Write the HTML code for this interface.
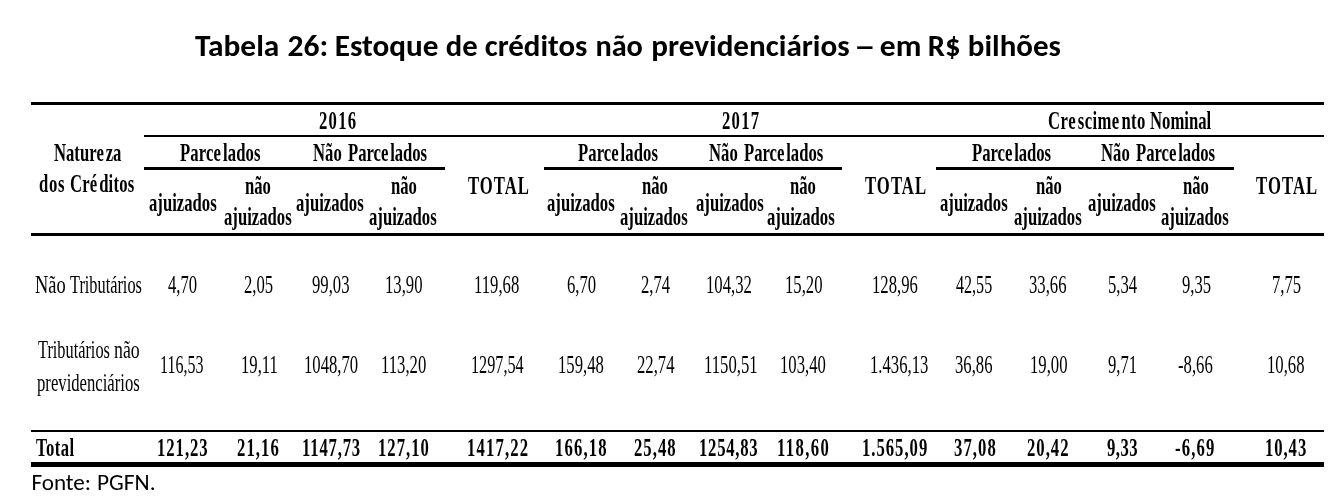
<!DOCTYPE html>
<html lang="pt-BR"><head><meta charset="utf-8"><title>Tabela 26</title>
<style>
html,body{margin:0;padding:0;background:#fff;}
body{width:1338px;height:498px;position:relative;overflow:hidden;color:#000;will-change:transform;}
.t{position:absolute;white-space:nowrap;font-family:"Liberation Serif","Times New Roman",serif;font-size:25px;line-height:25px;transform-origin:0 0;}
.b{font-weight:bold;}
.r{position:absolute;background:#000;}
.s{position:absolute;left:0;top:0;}
.s text{font-family:Carlito,Calibri,"Liberation Sans",sans-serif;fill:#000;}
.tb{font-weight:bold;font-size-adjust:0.4849;}
.tr{font-weight:normal;font-size-adjust:0.4775;}
</style></head><body>
<div class="r" style="left:31px;top:102px;width:1293px;height:3px"></div>
<div class="r" style="left:144px;top:135px;width:1180px;height:2px"></div>
<div class="r" style="left:144px;top:167px;width:301px;height:3px"></div>
<div class="r" style="left:544px;top:167px;width:298px;height:3px"></div>
<div class="r" style="left:936px;top:167px;width:298px;height:3px"></div>
<div class="r" style="left:31px;top:233px;width:1293px;height:3px"></div>
<div class="r" style="left:31px;top:430px;width:1293px;height:2px"></div>
<div class="r" style="left:31px;top:462px;width:1293px;height:5px"></div>
<svg class="s" width="1338" height="498" viewBox="0 0 1338 498">
<text class="tb" x="194.90" y="55.9" font-size="30.5" textLength="84.46" lengthAdjust="spacingAndGlyphs">Tabela</text>
<text class="tb" x="287.50" y="55.9" font-size="30.5" textLength="40.66" lengthAdjust="spacingAndGlyphs">26:</text>
<text class="tb" x="334.70" y="55.9" font-size="30.5" textLength="103.85" lengthAdjust="spacingAndGlyphs">Estoque</text>
<text class="tb" x="445.80" y="55.9" font-size="30.5" textLength="31.84" lengthAdjust="spacingAndGlyphs">de</text>
<text class="tb" x="484.70" y="55.9" font-size="30.5" textLength="102.75" lengthAdjust="spacingAndGlyphs">créditos</text>
<text class="tb" x="595.40" y="55.9" font-size="30.5" textLength="47.51" lengthAdjust="spacingAndGlyphs">não</text>
<text class="tb" x="651.30" y="55.9" font-size="30.5" textLength="198.37" lengthAdjust="spacingAndGlyphs">previdenciários</text>
<text class="tb" x="853.90" y="55.9" font-size="30.5" textLength="21.70" lengthAdjust="spacingAndGlyphs">–</text>
<text class="tb" x="879.80" y="55.9" font-size="30.5" textLength="41.58" lengthAdjust="spacingAndGlyphs">em</text>
<text class="tb" x="927.80" y="55.9" font-size="30.5" textLength="32.75" lengthAdjust="spacingAndGlyphs">R$</text>
<text class="tb" x="967.80" y="55.9" font-size="30.5" textLength="93.08" lengthAdjust="spacingAndGlyphs">bilhões</text>
<text class="tr" x="31.40" y="489.8" font-size="22" textLength="59.68" lengthAdjust="spacingAndGlyphs">Fonte:</text>
<text class="tr" x="97.00" y="489.8" font-size="22" textLength="58.61" lengthAdjust="spacingAndGlyphs">PGFN.</text>
</svg>
<div class="t b" style="left:54.30px;top:139.66px;transform:scaleX(0.6670);letter-spacing:-0.021px">Natur<span style="letter-spacing:2.679px">e</span>za</div>
<div class="t b" style="left:38.90px;top:170.66px;transform:scaleX(0.6670);letter-spacing:0.975px">dos</div>
<div class="t b" style="left:69.90px;top:170.66px;transform:scaleX(0.6670);letter-spacing:0.257px">Cr<span style="letter-spacing:2.957px">é</span>ditos</div>
<div class="t b" style="left:319.10px;top:107.56px;transform:scaleX(0.6670);letter-spacing:1.849px">2016</div>
<div class="t b" style="left:721.60px;top:107.56px;transform:scaleX(0.6670);letter-spacing:1.899px">2017</div>
<div class="t b" style="left:1047.70px;top:107.56px;transform:scaleX(0.6670);letter-spacing:0.585px">Cr<span style="letter-spacing:3.285px">e</span>scim<span style="letter-spacing:3.285px">e</span>nto</div>
<div class="t b" style="left:1150.10px;top:107.56px;transform:scaleX(0.6670)">Nominal</div>
<div class="t b" style="left:180.40px;top:139.66px;transform:scaleX(0.6670);letter-spacing:0.200px">Parc<span style="letter-spacing:2.900px">e</span>lados</div>
<div class="t b" style="left:313.10px;top:139.66px;transform:scaleX(0.6670)">Não</div>
<div class="t b" style="left:348.30px;top:139.66px;transform:scaleX(0.6670);letter-spacing:-0.033px">Parc<span style="letter-spacing:2.667px">e</span>lados</div>
<div class="t b" style="left:578.30px;top:139.66px;transform:scaleX(0.6670);letter-spacing:0.100px">Parc<span style="letter-spacing:2.800px">e</span>lados</div>
<div class="t b" style="left:709.10px;top:139.66px;transform:scaleX(0.6670)">Não</div>
<div class="t b" style="left:744.00px;top:139.66px;transform:scaleX(0.6670);letter-spacing:-0.017px">Parc<span style="letter-spacing:2.683px">e</span>lados</div>
<div class="t b" style="left:971.80px;top:139.66px;transform:scaleX(0.6670);letter-spacing:-0.033px">Parc<span style="letter-spacing:2.667px">e</span>lados</div>
<div class="t b" style="left:1101.10px;top:139.66px;transform:scaleX(0.6670)">Não</div>
<div class="t b" style="left:1136.30px;top:139.66px;transform:scaleX(0.6670);letter-spacing:-0.033px">Parc<span style="letter-spacing:2.667px">e</span>lados</div>
<div class="t b" style="left:148.70px;top:189.76px;transform:scaleX(0.6670)">ajuizados</div>
<div class="t b" style="left:295.60px;top:189.76px;transform:scaleX(0.6670)">ajuizados</div>
<div class="t b" style="left:547.30px;top:189.76px;transform:scaleX(0.6670)">ajuizados</div>
<div class="t b" style="left:695.50px;top:189.76px;transform:scaleX(0.6670)">ajuizados</div>
<div class="t b" style="left:940.00px;top:189.76px;transform:scaleX(0.6670)">ajuizados</div>
<div class="t b" style="left:1087.70px;top:189.76px;transform:scaleX(0.6670)">ajuizados</div>
<div class="t b" style="left:245.20px;top:172.76px;transform:scaleX(0.6670)">não</div>
<div class="t b" style="left:390.50px;top:172.76px;transform:scaleX(0.6670)">não</div>
<div class="t b" style="left:642.20px;top:172.76px;transform:scaleX(0.6670)">não</div>
<div class="t b" style="left:789.70px;top:172.76px;transform:scaleX(0.6670)">não</div>
<div class="t b" style="left:1035.70px;top:172.76px;transform:scaleX(0.6670)">não</div>
<div class="t b" style="left:1183.10px;top:172.76px;transform:scaleX(0.6670)">não</div>
<div class="t b" style="left:223.80px;top:204.06px;transform:scaleX(0.6670)">ajuizados</div>
<div class="t b" style="left:368.60px;top:204.06px;transform:scaleX(0.6670)">ajuizados</div>
<div class="t b" style="left:620.40px;top:204.06px;transform:scaleX(0.6670)">ajuizados</div>
<div class="t b" style="left:767.30px;top:204.06px;transform:scaleX(0.6670)">ajuizados</div>
<div class="t b" style="left:1013.80px;top:204.06px;transform:scaleX(0.6670)">ajuizados</div>
<div class="t b" style="left:1161.30px;top:204.06px;transform:scaleX(0.6670)">ajuizados</div>
<div class="t b" style="left:467.70px;top:172.76px;transform:scaleX(0.6670);letter-spacing:1.499px">TOTAL</div>
<div class="t b" style="left:864.70px;top:172.76px;transform:scaleX(0.6670);letter-spacing:1.574px">TOTAL</div>
<div class="t b" style="left:1255.70px;top:172.76px;transform:scaleX(0.6670);letter-spacing:1.612px">TOTAL</div>
<div class="t" style="left:34.90px;top:271.86px;transform:scaleX(0.7363)">Não</div>
<div class="t" style="left:69.80px;top:271.86px;transform:scaleX(0.6524)">Tributários</div>
<div class="t" style="left:37.70px;top:336.76px;transform:scaleX(0.6524)">Tributários</div>
<div class="t" style="left:114.30px;top:336.76px;transform:scaleX(0.7105)">não</div>
<div class="t" style="left:37.30px;top:369.86px;transform:scaleX(0.6670)">previdenciários</div>
<div class="t b" style="left:35.80px;top:434.86px;transform:scaleX(0.6670);letter-spacing:0.600px">Total</div>
<div class="t" style="left:168.10px;top:271.86px;transform:scaleX(0.6670)">4,70</div>
<div class="t" style="left:243.60px;top:271.86px;transform:scaleX(0.6670)">2,05</div>
<div class="t" style="left:311.80px;top:271.86px;transform:scaleX(0.6670)">99,03</div>
<div class="t" style="left:385.30px;top:271.86px;transform:scaleX(0.6670)">13,90</div>
<div class="t" style="left:474.00px;top:271.86px;transform:scaleX(0.6670)">119,68</div>
<div class="t" style="left:566.90px;top:271.86px;transform:scaleX(0.6670)">6,70</div>
<div class="t" style="left:640.80px;top:271.86px;transform:scaleX(0.6670)">2,74</div>
<div class="t" style="left:706.30px;top:271.86px;transform:scaleX(0.6670)">104,32</div>
<div class="t" style="left:785.00px;top:271.86px;transform:scaleX(0.6670)">15,20</div>
<div class="t" style="left:872.10px;top:271.86px;transform:scaleX(0.6670)">128,96</div>
<div class="t" style="left:956.40px;top:271.86px;transform:scaleX(0.6436)">42,55</div>
<div class="t" style="left:1029.40px;top:271.86px;transform:scaleX(0.6670)">33,66</div>
<div class="t" style="left:1108.10px;top:271.86px;transform:scaleX(0.6670)">5,34</div>
<div class="t" style="left:1181.80px;top:271.86px;transform:scaleX(0.6670)">9,35</div>
<div class="t" style="left:1272.30px;top:271.86px;transform:scaleX(0.6670)">7,75</div>
<div class="t" style="left:159.90px;top:352.06px;transform:scaleX(0.6406)">116,53</div>
<div class="t" style="left:240.60px;top:352.06px;transform:scaleX(0.6670)">19,11</div>
<div class="t" style="left:304.40px;top:352.06px;transform:scaleX(0.6670)">1048,70</div>
<div class="t" style="left:381.10px;top:352.06px;transform:scaleX(0.6670)">113,20</div>
<div class="t" style="left:471.20px;top:352.06px;transform:scaleX(0.6490)">1297,54</div>
<div class="t" style="left:558.30px;top:352.06px;transform:scaleX(0.6670)">159,48</div>
<div class="t" style="left:637.10px;top:352.06px;transform:scaleX(0.6670)">22,74</div>
<div class="t" style="left:703.50px;top:352.06px;transform:scaleX(0.6670)">1150,51</div>
<div class="t" style="left:780.20px;top:352.06px;transform:scaleX(0.6670)">103,40</div>
<div class="t" style="left:870.10px;top:352.06px;transform:scaleX(0.6670)">1.436,13</div>
<div class="t" style="left:955.40px;top:352.06px;transform:scaleX(0.6670)">36,86</div>
<div class="t" style="left:1029.50px;top:352.06px;transform:scaleX(0.6670)">19,00</div>
<div class="t" style="left:1108.10px;top:352.06px;transform:scaleX(0.6670)">9,71</div>
<div class="t" style="left:1178.40px;top:352.06px;transform:scaleX(0.6670)">-8,66</div>
<div class="t" style="left:1267.40px;top:352.06px;transform:scaleX(0.6670)">10,68</div>
<div class="t b" style="left:156.90px;top:434.86px;transform:scaleX(0.6670);letter-spacing:1.439px">121,23</div>
<div class="t b" style="left:237.20px;top:434.86px;transform:scaleX(0.6670);letter-spacing:1.574px">21,16</div>
<div class="t b" style="left:301.50px;top:434.86px;transform:scaleX(0.6670);letter-spacing:1.224px">1147,73</div>
<div class="t b" style="left:377.70px;top:434.86px;transform:scaleX(0.6670);letter-spacing:1.529px">127,10</div>
<div class="t b" style="left:466.70px;top:434.86px;transform:scaleX(0.6670);letter-spacing:1.699px">1417,22</div>
<div class="t b" style="left:555.00px;top:434.86px;transform:scaleX(0.6670);letter-spacing:1.739px">166,18</div>
<div class="t b" style="left:633.80px;top:434.86px;transform:scaleX(0.6670);letter-spacing:1.537px">25,48</div>
<div class="t b" style="left:699.00px;top:434.86px;transform:scaleX(0.6670);letter-spacing:1.124px">1254,83</div>
<div class="t b" style="left:776.80px;top:434.86px;transform:scaleX(0.6670);letter-spacing:2.039px">118,60</div>
<div class="t b" style="left:861.90px;top:434.86px;transform:scaleX(0.6670);letter-spacing:1.478px">1.565,09</div>
<div class="t b" style="left:953.70px;top:434.86px;transform:scaleX(0.6670);letter-spacing:1.612px">37,08</div>
<div class="t b" style="left:1026.90px;top:434.86px;transform:scaleX(0.6670);letter-spacing:1.499px">20,42</div>
<div class="t b" style="left:1106.50px;top:434.86px;transform:scaleX(0.6670);letter-spacing:0.700px">9,33</div>
<div class="t b" style="left:1175.20px;top:434.86px;transform:scaleX(0.6670);letter-spacing:1.687px">-6,69</div>
<div class="t b" style="left:1265.20px;top:434.86px;transform:scaleX(0.6670);letter-spacing:1.387px">10,43</div>
</body></html>
